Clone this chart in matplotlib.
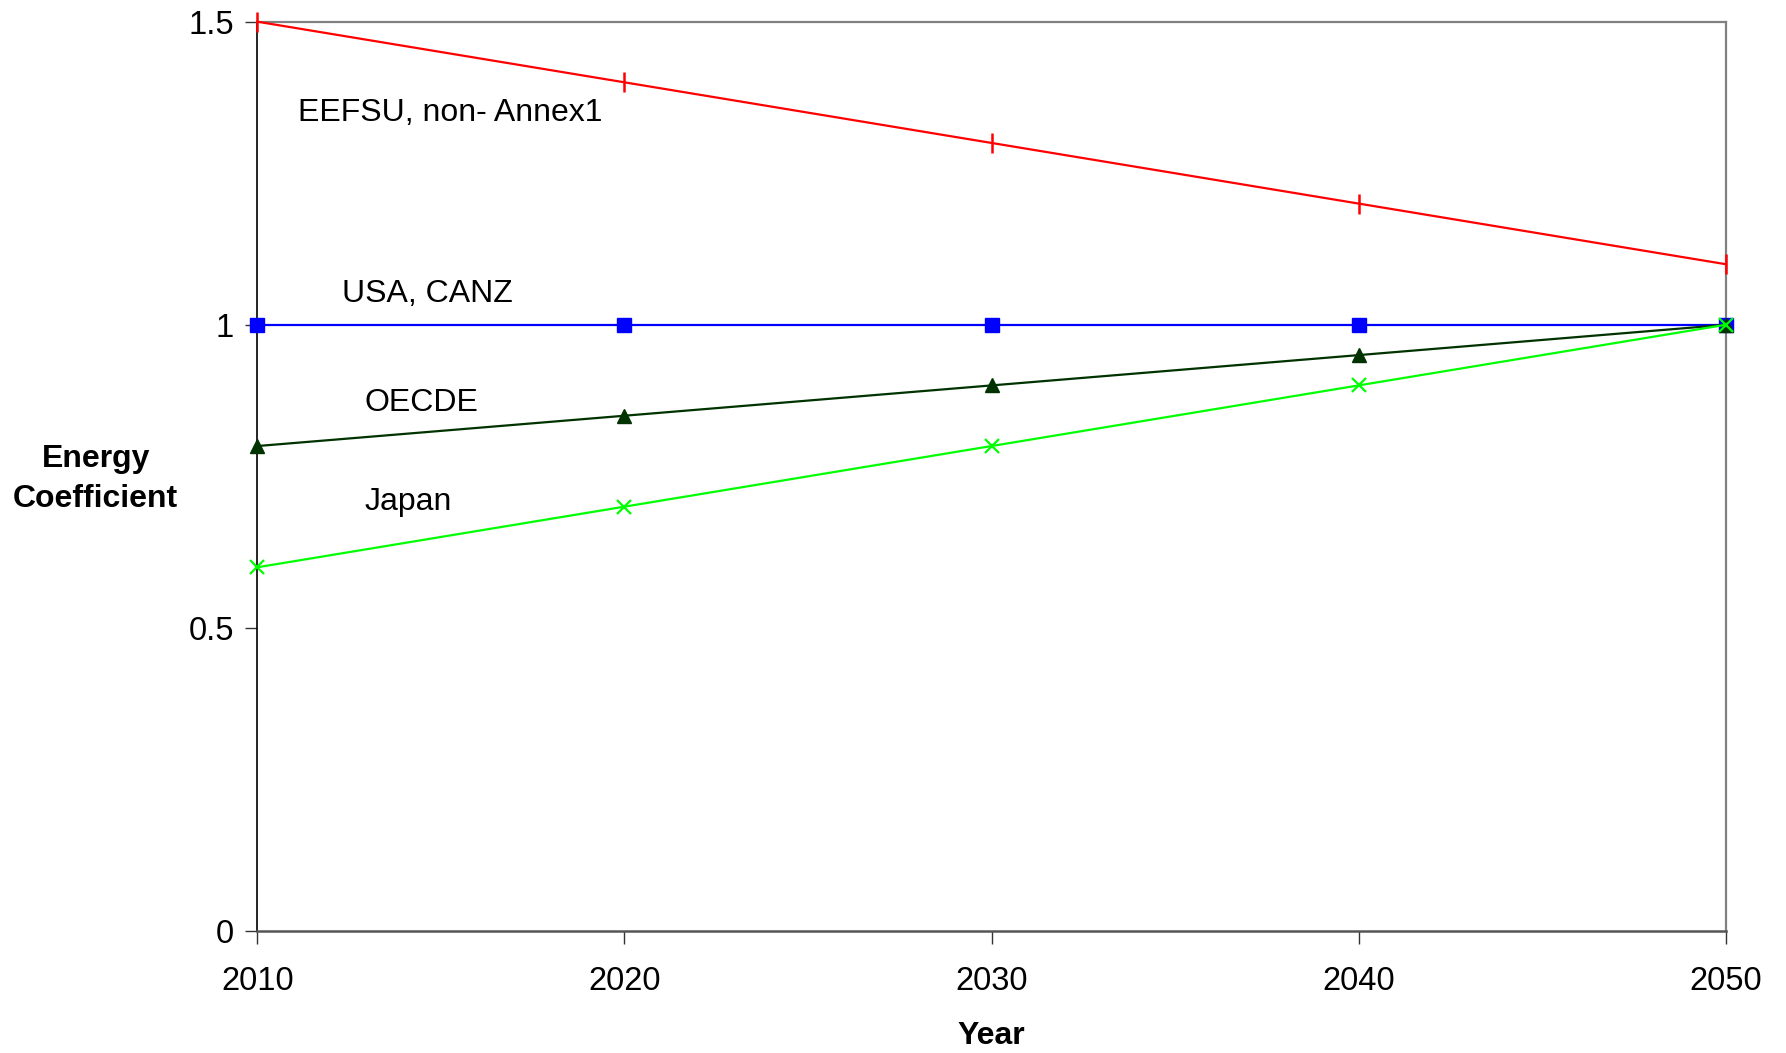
import matplotlib
matplotlib.use("Agg")
import matplotlib.pyplot as plt

years = [2010, 2020, 2030, 2040, 2050]
eefsu = [1.5, 1.4, 1.3, 1.2, 1.1]
usa = [1.0, 1.0, 1.0, 1.0, 1.0]
oecde = [0.8, 0.85, 0.9, 0.95, 1.0]
japan = [0.6, 0.7, 0.8, 0.9, 1.0]
yticks = [0, 0.5, 1, 1.5]
ytick_labels = ["0", "0.5", "1", "1.5"]

plt.rcParams['font.family'] = ['Liberation Sans', 'DejaVu Sans']

fig = plt.figure(figsize=(17.86, 10.53), dpi=100)
ax = fig.add_axes([257.4/1786, 1 - 931/1053, (1725.6-257.4)/1786, (931-21.7)/1053])

lw = 1.6
ax.plot(years, eefsu, color='#FF0000', lw=lw, marker='|', ms=15, mew=1.8, clip_on=False, zorder=3)
ax.plot(years, oecde, color='#003300', lw=lw, marker='^', ms=10, clip_on=False, zorder=4)
ax.plot(years, usa, color='#0000FF', lw=lw, marker='s', ms=9.5, clip_on=False, zorder=3)
ax.plot(years, japan, color='#00FF00', lw=lw, marker='x', ms=10, mew=1.6, clip_on=False, zorder=5)

ax.set_xlim(2010, 2050)
ax.set_ylim(0, 1.5)
ax.set_xticks(years)
ax.set_xticklabels([str(y) for y in years])
ax.set_yticks(yticks)
ax.set_yticklabels(ytick_labels)
ax.tick_params(axis='both', labelsize=23.5, length=9, width=1, color='#333333', direction='out')
ax.tick_params(axis='x', pad=16)
ax.tick_params(axis='y', pad=8)

for s in ['top', 'right']:
    ax.spines[s].set_color('#808080')
    ax.spines[s].set_linewidth(1.6)
ax.spines['left'].set_color('#000000')
ax.spines['left'].set_linewidth(1.2)
ax.spines['bottom'].set_color('#555555')
ax.spines['bottom'].set_linewidth(1.8)

fs = 23
ax.text(2011.1, 1.349, "EEFSU, non- Annex1", fontsize=fs, va='center', ha='left')
ax.text(2012.3, 1.050, "USA, CANZ", fontsize=fs, va='center', ha='left')
ax.text(2012.92, 0.871, "OECDE", fontsize=fs, va='center', ha='left')
ax.text(2012.92, 0.707, "Japan", fontsize=fs, va='center', ha='left')

fig.text(95.7/1786, 1 - 479/1053, "Energy\nCoefficient", fontsize=23, fontweight='bold',
         ha='center', va='center', linespacing=1.45)
fig.text(991/1786, 1 - 1036.5/1053, "Year", fontsize=23, fontweight='bold', ha='center', va='center')

fig.savefig("out.png", dpi=100)
